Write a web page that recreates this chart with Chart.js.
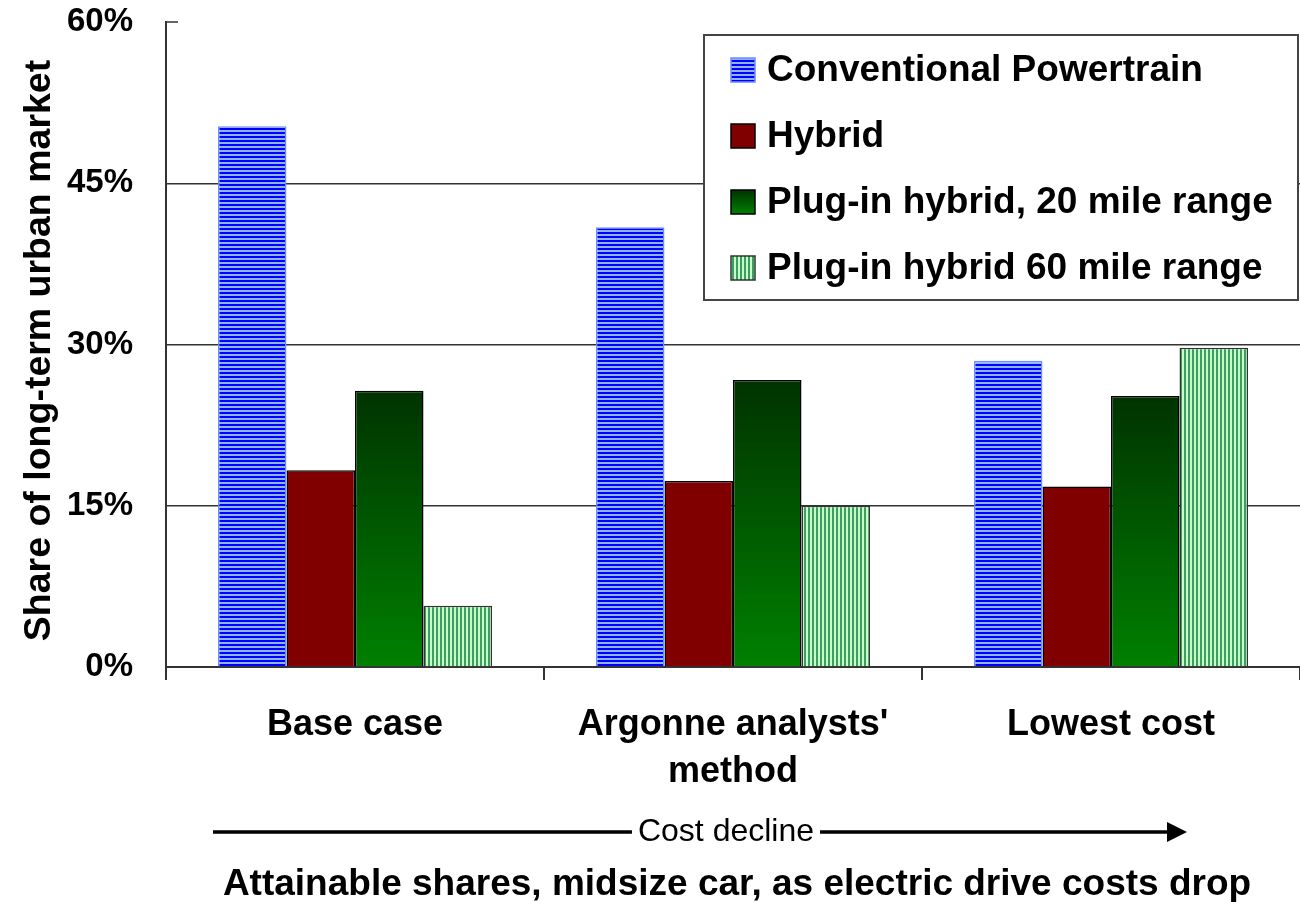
<!DOCTYPE html>
<html>
<head>
<meta charset="utf-8">
<script src="https://cdn.jsdelivr.net/npm/chart.js@4.4.0/dist/chart.umd.min.js"></script>
<style>
  html, body { margin: 0; padding: 0; background: #fff; }
  #wrap { width: 1300px; height: 902px; }
</style>
</head>
<body>
<div id="wrap"><canvas id="chart"></canvas></div>
<script>
// data
const categories = [["Base case"], ["Argonne analysts'", "method"], ["Lowest cost"]];
const seriesNames = ["Conventional Powertrain", "Hybrid", "Plug-in hybrid, 20 mile range", "Plug-in hybrid 60 mile range"];
const conventional = [50.3, 40.9, 28.5];
const hybrid = [18.3, 17.3, 16.8];
const plugIn20 = [25.7, 26.7, 25.2];
const plugIn60 = [5.7, 15.0, 29.7];
const yTicks = [0, 15, 30, 45, 60];
const arrowText = "Cost decline";
const bottomTitle = "Attainable shares, midsize car, as electric drive costs drop";
const yTitle = "Share of long-term urban market";

const canvas = document.getElementById("chart");
const ctx2d = canvas.getContext("2d");

function makePattern(w, h, draw) {
	const c = document.createElement("canvas");
	c.width = w;
	c.height = h;
	draw(c.getContext("2d"));
	return ctx2d.createPattern(c, "repeat");
}

// blue horizontal stripes
const bluePattern = makePattern(4, 4, (g) => {
	g.fillStyle = "#0000ff";
	g.fillRect(0, 0, 4, 4);
	g.fillStyle = "#8db4ff";
	g.fillRect(0, 2, 4, 2);
});

// green vertical stripes
const greenPattern = makePattern(4, 4, (g) => {
	g.fillStyle = "#c6ffc6";
	g.fillRect(0, 0, 4, 4);
	g.fillStyle = "#3e9d62";
	g.fillRect(0, 0, 2, 4);
});

function greenGradient(chart, top, bottom) {
	const g = chart.ctx.createLinearGradient(0, top, 0, bottom);
	g.addColorStop(0, "#003300");
	g.addColorStop(1, "#008000");
	return g;
}

const fills = [bluePattern, "#800000", null, greenPattern];
const borders = ["#6f8cff", "#000000", "#000000", "#333333"];
const FONT = "'Liberation Sans', Arial, sans-serif";

const overlayPlugin = {
	id: "overlay",
	afterDraw(chart) {
		const { ctx, chartArea, scales } = chart;
		ctx.save();

		// small inside tick at the top of the value axis
		const yTop = scales.y.getPixelForValue(60);
		ctx.strokeStyle = "#333";
		ctx.lineWidth = 1.5;
		ctx.beginPath();
		ctx.moveTo(chartArea.left, yTop);
		ctx.lineTo(chartArea.left + 12, yTop);
		ctx.stroke();

		// legend box
		const bx = 704, by = 35, bw = chartArea.right - 2 - bx, bh = 265;
		ctx.fillStyle = "#fff";
		ctx.fillRect(bx, by, bw, bh);
		ctx.strokeStyle = "#444";
		ctx.lineWidth = 2;
		ctx.strokeRect(bx, by, bw, bh);
		ctx.font = "bold 37px " + FONT;
		ctx.textBaseline = "middle";
		ctx.textAlign = "left";
		seriesNames.forEach((name, i) => {
			const cy = by + 35 + i * 66;
			const s = 24, sx = bx + 27, sy = cy - s / 2;
			ctx.fillStyle = i === 2 ? greenGradient(chart, sy, sy + s) : fills[i];
			ctx.fillRect(sx, sy, s, s);
			ctx.strokeStyle = borders[i];
			ctx.lineWidth = 1.5;
			ctx.strokeRect(sx, sy, s, s);
			ctx.fillStyle = "#000";
			ctx.fillText(name, bx + 63, cy + 1);
		});

		// y axis title
		ctx.save();
		ctx.translate(40, (chartArea.top + chartArea.bottom) / 2 + 6);
		ctx.rotate(-Math.PI / 2);
		ctx.font = "bold 37.5px " + FONT;
		ctx.textAlign = "center";
		ctx.textBaseline = "middle";
		ctx.fillStyle = "#000";
		ctx.fillText(yTitle, 0, 0);
		ctx.restore();

		// cost decline arrow
		const ay = 832, ax0 = 213, ax1 = 1187;
		ctx.font = "32px " + FONT;
		ctx.textAlign = "center";
		ctx.textBaseline = "middle";
		const tx = 726;
		const tw = ctx.measureText(arrowText).width;
		ctx.fillStyle = "#000";
		ctx.fillText(arrowText, tx, ay);
		ctx.strokeStyle = "#000";
		ctx.lineWidth = 3.5;
		ctx.beginPath();
		ctx.moveTo(ax0, ay);
		ctx.lineTo(tx - tw / 2 - 6, ay);
		ctx.moveTo(tx + tw / 2 + 6, ay);
		ctx.lineTo(ax1 - 18, ay);
		ctx.stroke();
		ctx.beginPath();
		ctx.moveTo(ax1, ay);
		ctx.lineTo(ax1 - 20, ay - 10);
		ctx.lineTo(ax1 - 20, ay + 10);
		ctx.closePath();
		ctx.fill();

		// bottom title
		ctx.font = "bold 37px " + FONT;
		ctx.fillText(bottomTitle, 737, 885);

		ctx.restore();
	},
};

new Chart(canvas, {
	type: "bar",
	data: {
		labels: categories,
		datasets: [
			{
				label: seriesNames[0],
				data: conventional,
				backgroundColor: bluePattern,
				borderColor: borders[0],
				borderWidth: 1.5,
			},
			{
				label: seriesNames[1],
				data: hybrid,
				backgroundColor: "#800000",
				borderColor: borders[1],
				borderWidth: 1.5,
			},
			{
				label: seriesNames[2],
				data: plugIn20,
				backgroundColor: (c) => {
					if (c.type !== "data" || !c.chart.chartArea) return "#006000";
					const y = c.chart.scales.y;
					return greenGradient(c.chart, y.getPixelForValue(c.raw), y.getPixelForValue(0));
				},
				borderColor: borders[2],
				borderWidth: 1.5,
			},
			{
				label: seriesNames[3],
				data: plugIn60,
				backgroundColor: greenPattern,
				borderColor: borders[3],
				borderWidth: 1.5,
			},
		],
	},
	options: {
		responsive: true,
		maintainAspectRatio: false,
		animation: false,
		layout: { padding: { top: 22, left: 0, right: 0, bottom: 0 } },
		datasets: { bar: { categoryPercentage: 0.725, barPercentage: 1.0 } },
		plugins: { legend: { display: false }, tooltip: { enabled: false } },
		scales: {
			x: {
				afterFit: (s) => { s.height = 235; },
				border: { color: "#333", width: 2 },
				grid: { drawOnChartArea: false, drawTicks: true, tickLength: 13, color: "#333", lineWidth: 2 },
				ticks: {
					color: "#000",
					padding: 22,
					maxRotation: 0,
					font: { family: FONT, size: 36, weight: "bold", lineHeight: 1.3 },
				},
			},
			y: {
				min: 0,
				max: 60,
				afterFit: (s) => {
					s.width = 166;
					s.paddingTop = 0;
					s.paddingBottom = 0;
				},
				afterBuildTicks: (s) => { s.ticks = yTicks.map((v) => ({ value: v })); },
				border: { color: "#333", width: 2 },
				grid: {
					drawTicks: false,
					color: (c) => (c.tick && c.tick.value === 60 ? "rgba(0,0,0,0)" : "#333"),
					lineWidth: 1.5,
				},
				ticks: {
					color: "#000",
					padding: 33,
					callback: (v) => v + "%",
					font: { family: FONT, size: 33, weight: "bold", lineHeight: 1.0 },
				},
			},
		},
	},
	plugins: [overlayPlugin],
});
</script>
</body>
</html>
